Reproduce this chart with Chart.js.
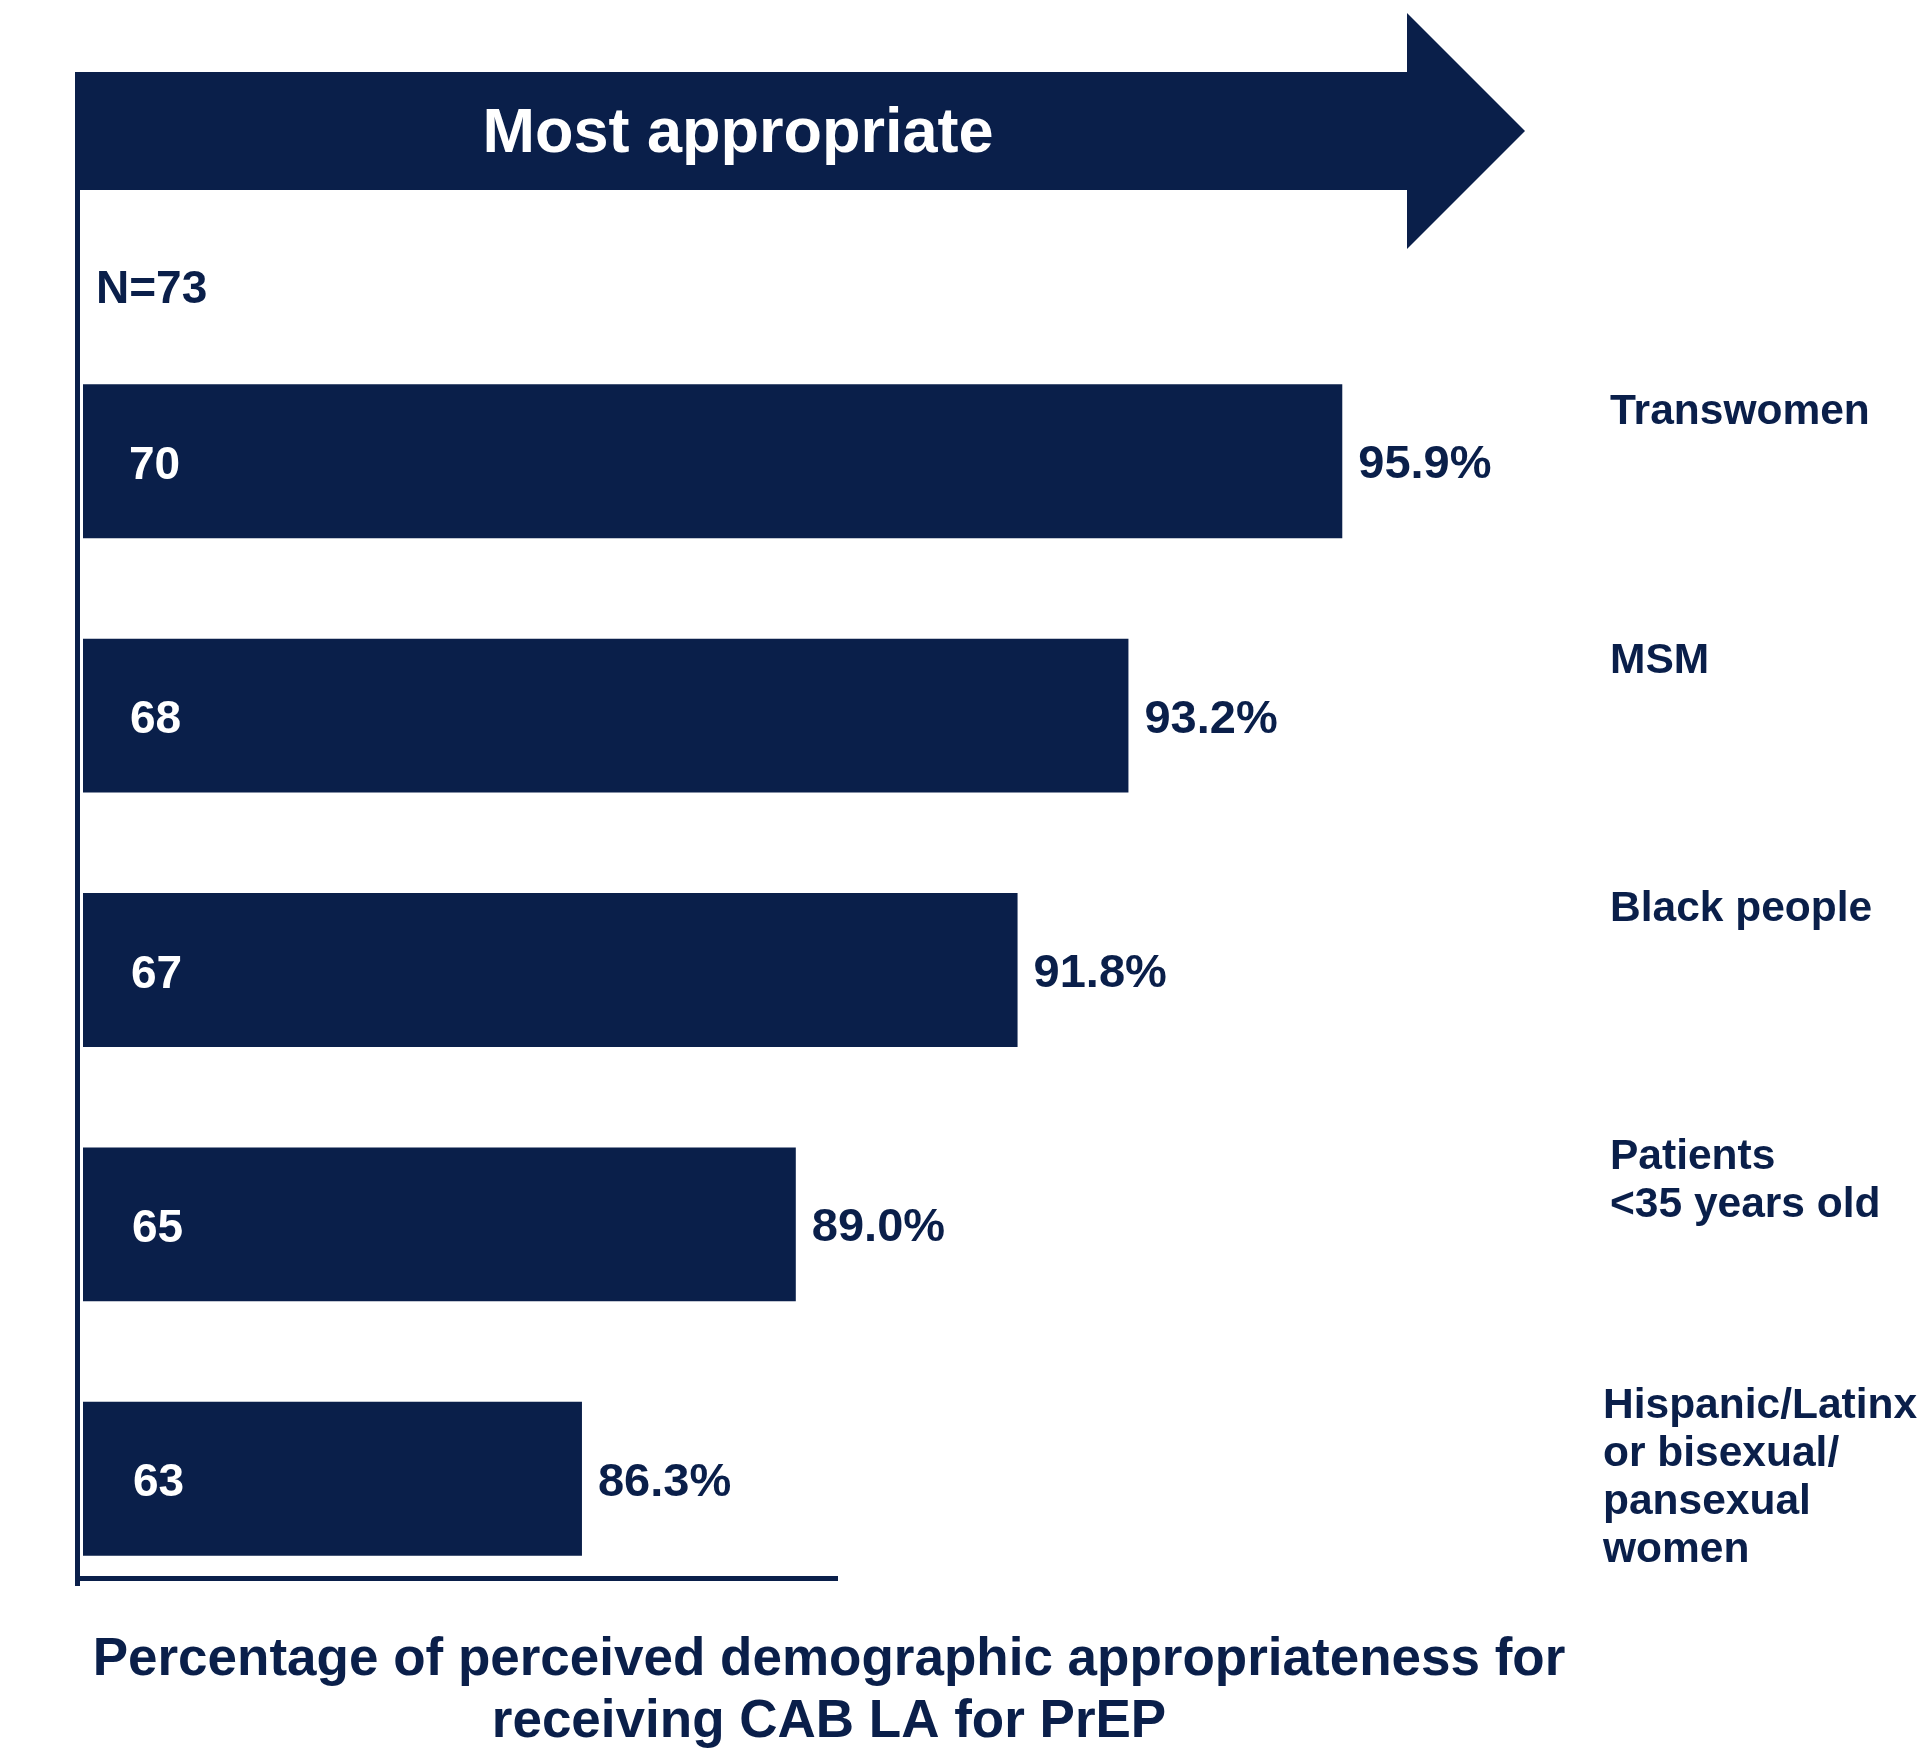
<!DOCTYPE html>
<html>
<head>
<meta charset="utf-8">
<script src="https://cdn.jsdelivr.net/npm/chart.js@4/dist/chart.umd.min.js"></script>
<style>
  html, body { margin: 0; padding: 0; background: #fff; }
  #wrap { width: 1929px; height: 1748px; }
</style>
</head>
<body>
<div id="wrap"><canvas id="chart" width="1929" height="1748"></canvas></div>
<script>
// data
var categories = [
  "Transwomen",
  "MSM",
  "Black people",
  ["Patients", "<35 years old"],
  ["Hispanic/Latinx", "or bisexual/", "pansexual", "women"]
]
var percentValues = [95.9, 93.2, 91.8, 89.0, 86.3]
var countValues = [70, 68, 67, 65, 63]
var sampleSize = 73

var NAVY = "#0a1f4a"
var FONT = "'Liberation Sans', Arial, sans-serif"

var decorations = {
  id: "decorations",
  beforeDatasetsDraw: function (chart) {
    var ctx = chart.ctx
    var area = chart.chartArea
    ctx.save()
    ctx.fillStyle = NAVY
    // big arrow
    ctx.beginPath()
    ctx.moveTo(75, 72)
    ctx.lineTo(1407, 72)
    ctx.lineTo(1407, 13)
    ctx.lineTo(1525, 131)
    ctx.lineTo(1407, 249)
    ctx.lineTo(1407, 190)
    ctx.lineTo(75, 190)
    ctx.closePath()
    ctx.fill()
    ctx.fillStyle = "#fff"
    ctx.font = "bold 63px " + FONT
    ctx.textAlign = "center"
    ctx.textBaseline = "alphabetic"
    ctx.fillText("Most appropriate", 738, 152)

    // axis lines
    ctx.fillStyle = NAVY
    ctx.fillRect(area.left - 8, 72, 5, 1514)
    ctx.fillRect(area.left - 8, 1576, 763, 5)

    ctx.textAlign = "left"
    ctx.font = "bold 46px " + FONT
    ctx.fillText("N=" + sampleSize, 96, 303)
    ctx.restore()
  },
  afterDatasetsDraw: function (chart) {
    var ctx = chart.ctx
    var area = chart.chartArea
    var bars = chart.getDatasetMeta(0).data
    ctx.save()
    bars.forEach(function (bar, i) {
      // count inside bar
      ctx.fillStyle = "#fff"
      ctx.font = "bold 46px " + FONT
      ctx.textAlign = "left"
      ctx.textBaseline = "middle"
      ctx.fillText(String(countValues[i]), area.left + 46 + i, bar.y + 5)
      // percent after bar
      ctx.fillStyle = NAVY
      ctx.font = "bold 47px " + FONT
      ctx.fillText(percentValues[i].toFixed(1) + "%", bar.x + 16, bar.y + 4)
      // category on the right
      var lines = [].concat(categories[i])
      var top = bar.y - bar.height / 2
      var lx = lines.length > 2 ? 1603 : 1610
      ctx.font = "bold 42.5px " + FONT
      ctx.textBaseline = "alphabetic"
      lines.forEach(function (t, j) {
        ctx.fillText(t, lx, top + 40 - i * 6 + j * 48)
      })
    })
    // title under chart
    ctx.font = "bold 53px " + FONT
    ctx.textAlign = "center"
    ctx.fillText("Percentage of perceived demographic appropriateness for", 829, 1675)
    ctx.fillText("receiving CAB LA for PrEP", 829, 1737)
    ctx.restore()
  }
}

new Chart(document.getElementById("chart"), {
  type: "bar",
  plugins: [decorations],
  data: {
    labels: categories,
    datasets: [
      {
        data: percentValues,
        backgroundColor: NAVY,
        borderWidth: 0,
        categoryPercentage: 1,
        barPercentage: 0.605,
      },
    ],
  },
  options: {
    indexAxis: "y",
    responsive: false,
    animation: false,
    layout: {
      padding: { left: 83, right: 262, top: 334, bottom: 142 },
    },
    scales: {
      x: { display: false, min: 80, max: 100 },
      y: { display: false },
    },
    plugins: {
      legend: { display: false },
      tooltip: { enabled: false },
    },
  },
})
</script>
</body>
</html>
